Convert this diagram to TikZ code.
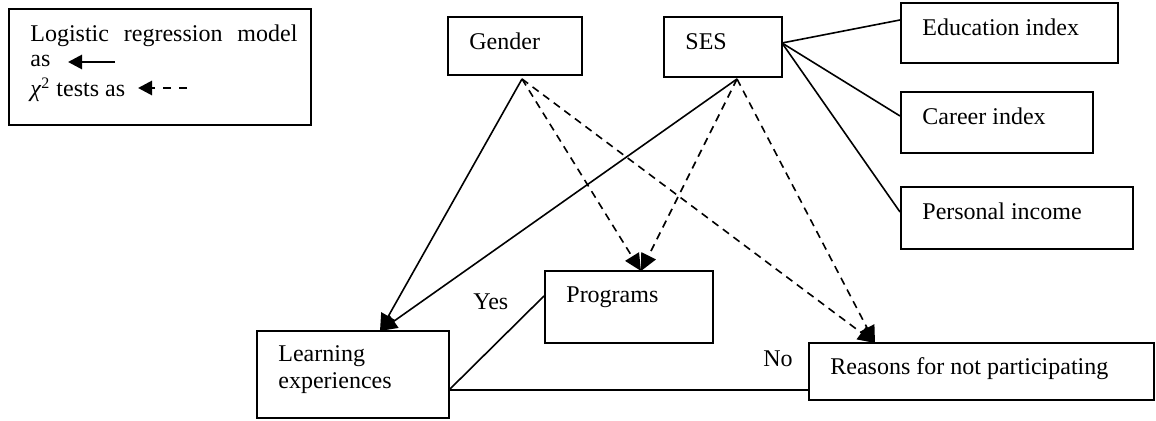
\documentclass[tikz,border=0pt]{standalone}
\usepackage{fontspec}
\setmainfont{Liberation Serif}
\usetikzlibrary{arrows.meta,fit}
\begin{document}
\begin{tikzpicture}[x=0.5pt,y=-0.5pt,
  box/.style={draw, line width=1pt, inner sep=0pt, rectangle},
  lbl/.style={anchor=base west, inner sep=0pt, font=\fontsize{12}{14}\selectfont},
  conn/.style={line width=0.8pt},
  arr/.style={line width=0.8pt, -{Triangle[length=8.5pt,width=8pt]}},
  darr/.style={line width=0.8pt, dash pattern=on 3.8pt off 2.8pt, -{Triangle[length=8.5pt,width=8pt]}},
  legarr/.style={line width=1.4pt, -{Triangle[length=7pt,width=7pt]}},
  legdarr/.style={line width=1.4pt, dash pattern=on 4pt off 4pt, -{Triangle[length=7pt,width=7pt]}}]
\useasboundingbox (0,0) rectangle (1156,421);
% legend
\node[box, fit={(9,9)(311,125)}] (legend) {};
\node[lbl] (leg1) at (30,42) {\makebox[133.5pt][s]{Logistic regression model}};
\node[lbl] (leg2) at (30,67) {as};
\node[lbl] (leg3) at (30,97) {\textit{χ}\textsuperscript{2} tests as};
\coordinate (la1) at (115,62); \coordinate (lb1) at (68,62);
\coordinate (la2) at (187,88); \coordinate (lb2) at (138,88);
\draw[legarr] (la1) -- (lb1);
\draw[legdarr] (la2) -- (lb2);
% boxes
\node[box, fit={(448,17)(582,75)}] (gender) {};
\node[lbl] (gendert) at (469,50) {Gender};
\node[box, fit={(664,17)(782,77)}] (ses) {};
\node[lbl] (sest) at (685,50) {SES};
\node[box, fit={(901,3)(1118,63)}] (edu) {};
\node[lbl] (edut) at (922,36) {Education index};
\node[box, fit={(901,92)(1093,153)}] (career) {};
\node[lbl] (careert) at (922,125) {Career index};
\node[box, fit={(901,187)(1133,249)}] (income) {};
\node[lbl] (incomet) at (922,220) {Personal income};
\node[box, fit={(545,271)(713,343)}] (prog) {};
\node[lbl] (progt) at (566,303) {Programs};
\node[box, fit={(257,331)(449,418)}] (learn) {};
\node[lbl] (learnt1) at (278,362) {Learning};
\node[lbl] (learnt2) at (278,389) {experiences};
\node[box, fit={(809,343)(1154,400)}] (reasons) {};
\node[lbl] (reasonst) at (830,375) {Reasons for not participating};
\node[lbl] (yes) at (473,310) {Yes};
\node[lbl] (no) at (763,367) {No};
% connection points
\coordinate (gs) at (522,79);
\coordinate (ss) at (737,79);
\coordinate (sr) at (782,43);
\coordinate (lin) at (380,331);
\coordinate (pin) at (641,271);
\coordinate (rin) at (875,343);
\coordinate (lout) at (449,390);
% connectors
\draw[arr] (gs) -- (lin);
\draw[arr] (ss) -- (lin);
\draw[darr] (gs) -- (pin);
\draw[darr] (ss) -- (pin);
\draw[darr] (gs) -- (rin);
\draw[darr] (ss) -- (rin);
\draw[conn] (sr) -- (edu.west |- 0,20);
\draw[conn] (sr) -- (career.west |- 0,116);
\draw[conn] (sr) -- (income.west |- 0,212);
\draw[conn] (lout) -- (prog.west |- 0,296);
\draw[conn] (lout) -- (reasons.west |- lout);
\end{tikzpicture}
\end{document}
